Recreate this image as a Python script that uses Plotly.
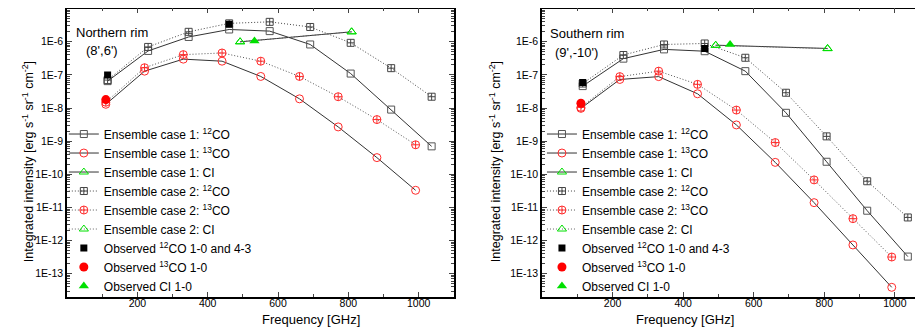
import numpy as np
import plotly.graph_objects as go

# === Frequencies [GHz] ===
freq_12co = [115.27, 230.54, 345.80, 461.04, 576.27, 691.47, 806.65, 921.80, 1036.91]
freq_13co = [110.20, 220.40, 330.59, 440.77, 550.93, 661.07, 771.18, 881.27, 991.33]
freq_ci = [492.16, 809.34]
freq_obs_12co = [115.27, 461.04]
freq_obs_13co = [110.20]
freq_obs_ci = [533.0]

# === Northern rim (8',6') ===
north_c1_12co = [6.5e-8, 5.3e-7, 1.4e-6, 2.35e-6, 2.1e-6, 8.3e-7, 1.1e-7, 9e-9, 7e-10]
north_c1_13co = [1.3e-8, 1.3e-7, 3.0e-7, 2.6e-7, 9e-8, 1.9e-8, 2.7e-9, 3.2e-10, 3.3e-11]
north_c1_ci = [1.0e-6, 2.0e-6]
north_c2_12co = [7e-8, 7e-7, 2.0e-6, 3.6e-6, 4.0e-6, 2.8e-6, 9.3e-7, 1.6e-7, 2.2e-8]
north_c2_13co = [1.5e-8, 1.65e-7, 4.1e-7, 4.6e-7, 2.6e-7, 9e-8, 2.2e-8, 4.5e-9, 7.8e-10]
north_c2_ci = [1.0e-6, 2.0e-6]
north_obs_12co = [1.0e-7, 3.4e-6]
north_obs_13co = [1.8e-8]
north_obs_ci = [1.05e-6]

# === Southern rim (9',-10') ===
south_c1_12co = [4.6e-8, 3.1e-7, 5.9e-7, 5.2e-7, 1.3e-7, 7.2e-9, 2.4e-10, 8e-12, 3.3e-13]
south_c1_13co = [9.8e-9, 7.3e-8, 8.9e-8, 2.7e-8, 3.1e-9, 2.3e-10, 1.4e-11, 7.4e-13, 3.9e-14]
south_c1_ci = [7.9e-7, 6.3e-7]
south_c2_12co = [5.5e-8, 4.0e-7, 8.3e-7, 8.9e-7, 3.3e-7, 2.9e-8, 1.4e-9, 6.2e-11, 5e-12]
south_c2_13co = [1.05e-8, 8.9e-8, 1.3e-7, 5.2e-8, 8.7e-9, 9.1e-10, 6.8e-11, 4.6e-12, 3.2e-13]
south_c2_ci = [7.8e-7, 6.2e-7]
south_obs_12co = [5.9e-8, 6.3e-7]
south_obs_13co = [1.4e-8]
south_obs_ci = [8.3e-7]

# === Axis ticks ===
ytick_vals = [1e-13, 1e-12, 1e-11, 1e-10, 1e-9, 1e-8, 1e-7, 1e-6]
ytick_text = ["1E-13", "1E-12", "1E-11", "1E-10", "1E-9", "1E-8", "1E-7", "1E-6"]
xtick_vals = [200, 400, 600, 800, 1000]

RED = "#ff2a2a"
GREEN = "#00e000"
DOTS = "1px,2px"


def add_panel(fig, xa, ya, legend, c1_12, c1_13, c1_ci, c2_12, c2_13, c2_ci, o12, o13, oci):
    common = dict(xaxis=xa, yaxis=ya, legend=legend, hoverinfo="skip")
    fig.add_trace(go.Scatter(x=freq_12co, y=c1_12, mode="lines+markers", name="Ensemble case 1: <sup>12</sup>CO",
                             line=dict(color="#333333", width=1),
                             marker=dict(symbol="square-open", size=7, color="#555555", line=dict(width=1)), **common))
    fig.add_trace(go.Scatter(x=freq_13co, y=c1_13, mode="lines+markers", name="Ensemble case 1: <sup>13</sup>CO",
                             line=dict(color="#333333", width=1),
                             marker=dict(symbol="circle-open", size=8, color=RED, line=dict(width=1)), **common))
    fig.add_trace(go.Scatter(x=freq_ci, y=c1_ci, mode="lines+markers", name="Ensemble case 1: CI",
                             line=dict(color="#333333", width=1),
                             marker=dict(symbol="triangle-up-open", size=8, color=GREEN, line=dict(width=1)), **common))
    fig.add_trace(go.Scatter(x=freq_12co, y=c2_12, mode="lines+markers", name="Ensemble case 2: <sup>12</sup>CO",
                             line=dict(color="#444444", width=1, dash=DOTS),
                             marker=dict(symbol="square-cross-open", size=7, color="#444444", line=dict(width=1)), **common))
    fig.add_trace(go.Scatter(x=freq_13co, y=c2_13, mode="lines+markers", name="Ensemble case 2: <sup>13</sup>CO",
                             line=dict(color="#555555", width=1, dash=DOTS),
                             marker=dict(symbol="circle-cross-open", size=8, color=RED, line=dict(width=1)), **common))
    fig.add_trace(go.Scatter(x=freq_ci, y=c2_ci, mode="lines+markers", name="Ensemble case 2: CI",
                             line=dict(color="#666666", width=1, dash=DOTS),
                             marker=dict(symbol="triangle-up-open", size=8, color=GREEN, line=dict(width=1)), **common))
    fig.add_trace(go.Scatter(x=freq_obs_12co, y=o12, mode="markers", name="Observed <sup>12</sup>CO 1-0 and 4-3",
                             marker=dict(symbol="square", size=7, color="black"), **common))
    fig.add_trace(go.Scatter(x=freq_obs_13co, y=o13, mode="markers", name="Observed <sup>13</sup>CO 1-0",
                             marker=dict(symbol="circle", size=9, color="#ff0000"), **common))
    fig.add_trace(go.Scatter(x=freq_obs_ci, y=oci, mode="markers", name="Observed CI 1-0",
                             marker=dict(symbol="triangle-up", size=9, color=GREEN), **common))


fig = go.Figure()
add_panel(fig, "x", "y", "legend", north_c1_12co, north_c1_13co, north_c1_ci, north_c2_12co, north_c2_13co,
          north_c2_ci, north_obs_12co, north_obs_13co, north_obs_ci)
add_panel(fig, "x2", "y2", "legend2", south_c1_12co, south_c1_13co, south_c1_ci, south_c2_12co, south_c2_13co,
          south_c2_ci, south_obs_12co, south_obs_13co, south_obs_ci)

minor_y = [m * 10.0 ** e for e in range(-14, -5) for m in range(2, 10)]

xaxis_style = dict(range=[0, 1100], tickvals=xtick_vals, ticks="inside", ticklen=5, tickwidth=1,
                   ticklabelstandoff=-4,
                   minor=dict(dtick=100, tick0=0, ticks="inside", ticklen=3),
                   showline=True, linecolor="black", linewidth=1.5, mirror="ticks",
                   showgrid=False, zeroline=False, tickfont=dict(size=10.5, color="black"))
yaxis_style = dict(type="log", range=[-13.7, -5.0], tickvals=ytick_vals, ticktext=ytick_text,
                   ticks="inside", ticklen=5, tickwidth=1,
                   minor=dict(tickvals=minor_y, ticks="inside", ticklen=3),
                   showline=True, linecolor="black", linewidth=1.5, mirror="ticks",
                   showgrid=False, zeroline=False, tickfont=dict(size=10.5, color="black"))

legend_style = dict(font=dict(size=12, color="black"), bgcolor="rgba(0,0,0,0)", xanchor="left",
                    yanchor="top", tracegroupgap=0, itemwidth=30)

ytitle = "Integrated intensity [erg s<sup>-1</sup> sr<sup>-1</sup> cm<sup>-2</sup>]"

fig.update_layout(
    width=923, height=328,
    margin=dict(l=0, r=0, t=0, b=0),
    paper_bgcolor="white", plot_bgcolor="white",
    font=dict(family="Arial", color="black"),
    xaxis=dict(domain=[0.064, 0.483], anchor="y", **xaxis_style),
    yaxis=dict(domain=[0.119, 0.998], anchor="x", **yaxis_style),
    xaxis2=dict(domain=[0.5786, 0.999], anchor="y2", **xaxis_style),
    yaxis2=dict(domain=[0.119, 0.998], anchor="x2", **yaxis_style),
    legend=dict(x=0.0605, y=0.66, **legend_style),
    legend2=dict(x=0.5785, y=0.66, **legend_style),
    annotations=[
        dict(text="Northern rim", x=0.0715, y=0.954, xref="paper", yref="paper", xanchor="left",
             showarrow=False, font=dict(size=13)),
        dict(text="(8',6')", x=0.082, y=0.898, xref="paper", yref="paper", xanchor="left",
             showarrow=False, font=dict(size=13)),
        dict(text="Southern rim", x=0.585, y=0.952, xref="paper", yref="paper", xanchor="left",
             showarrow=False, font=dict(size=13)),
        dict(text="(9',-10')", x=0.590, y=0.893, xref="paper", yref="paper", xanchor="left",
             showarrow=False, font=dict(size=13)),
        dict(text=ytitle, x=10 / 923, y=0.53, xref="paper", yref="paper", textangle=-90, showarrow=False,
             font=dict(size=12.5)),
        dict(text=ytitle, x=487 / 923, y=0.53, xref="paper", yref="paper", textangle=-90, showarrow=False,
             font=dict(size=12.5)),
        dict(text="Frequency [GHz]", x=252 / 923, y=0.022, xref="paper", yref="paper", showarrow=False,
             font=dict(size=13)),
        dict(text="Frequency [GHz]", x=728 / 923, y=0.02, xref="paper", yref="paper", showarrow=False,
             font=dict(size=13)),
    ],
)

fig.write_html("out.html")
